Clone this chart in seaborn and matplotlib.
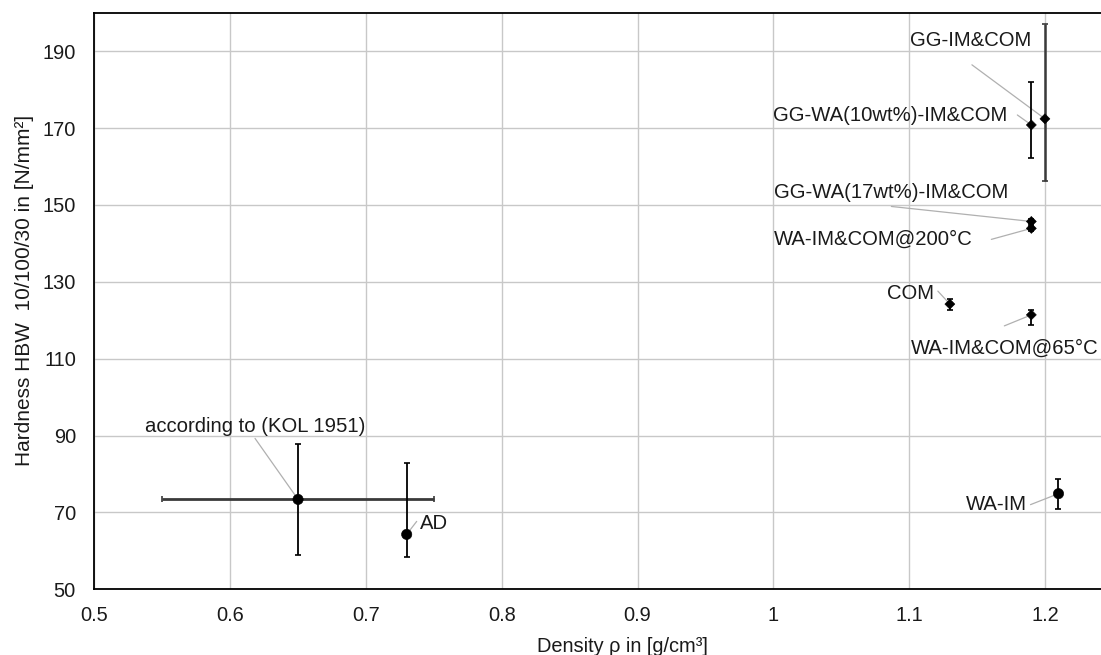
import numpy as np
import pandas as pd
import seaborn as sns
import matplotlib.pyplot as plt

# 数据
samples = ['according to (KOL 1951)', 'AD', 'WA-IM', 'GG-IM&COM',
           'GG-WA(10wt%)-IM&COM', 'GG-WA(17wt%)-IM&COM', 'WA-IM&COM@200°C',
           'COM', 'WA-IM&COM@65°C']
density = [0.65, 0.73, 1.21, 1.20, 1.19, 1.19, 1.19, 1.13, 1.19]
hardness = [73.4, 64.3, 74.9, 172.4, 170.8, 145.7, 143.9, 124.2, 121.4]
hard_err_low = [14.5, 6.0, 4.0, 16.1, 8.6, 0.7, 0.7, 1.5, 2.7]
hard_err_high = [14.5, 18.7, 3.8, 24.7, 11.2, 0.7, 0.7, 1.3, 1.3]
dens_err = [0.10, 0, 0, 0, 0, 0, 0, 0, 0]
marker_kind = ['circle', 'circle', 'circle', 'diamond', 'diamond', 'diamond',
               'diamond', 'diamond', 'diamond']

df = pd.DataFrame({'sample': samples, 'density': density, 'hardness': hardness,
                   'lo': hard_err_low, 'hi': hard_err_high, 'xerr': dens_err,
                   'kind': marker_kind})

sns.set_theme(style='whitegrid')
plt.rcParams['font.family'] = ['Liberation Sans', 'DejaVu Sans']
FS = 14.4

fig = plt.figure(figsize=(11.01, 6.55), dpi=100)
ax = fig.add_axes([0.0857, 0.1002, 0.9143, 0.8804])

# 误差线
for _, r in df.iterrows():
    col = '#3a3a3a' if r['sample'] == 'GG-IM&COM' else 'black'
    lw = 1.8 if r['sample'] == 'GG-IM&COM' else 1.3
    ax.errorbar(r['density'], r['hardness'], yerr=[[r['lo']], [r['hi']]],
                fmt='none', ecolor=col, elinewidth=lw, capsize=2.3,
                capthick=1.2, zorder=3)
    if r['xerr'] > 0:
        ax.errorbar(r['density'], r['hardness'], xerr=r['xerr'], fmt='none',
                    ecolor='#3a3a3a', elinewidth=2.0, capsize=2.3,
                    capthick=1.2, zorder=3)

sns.scatterplot(data=df, x='density', y='hardness', style='kind',
                markers={'circle': 'o', 'diamond': 'D'},
                size='kind', sizes={'circle': 55, 'diamond': 26},
                color='black', edgecolor='black', legend=False, ax=ax,
                zorder=4)

# 标签位置（相对点的像素偏移）：文字偏移, 引线起点偏移, 对齐
label_layout = {
    'GG-IM&COM': ((-74, 78), (-73, 54), 'center'),
    'GG-WA(10wt%)-IM&COM': ((-141, 9), (-14, 10), 'center'),
    'GG-WA(17wt%)-IM&COM': ((-140, 29), (-140, 15), 'center'),
    'WA-IM&COM@200°C': ((-158, -11), (-40, -11), 'center'),
    'COM': ((-39, 11), (-12, 13), 'center'),
    'WA-IM&COM@65°C': ((-27, -33), (-27, -11), 'center'),
    'according to (KOL 1951)': ((-43, 73), (-43, 61), 'center'),
    'AD': ((27, 11), (10, 13), 'center'),
    'WA-IM': ((-32, -11), (-28, -11), 'right'),
}
for _, r in df.iterrows():
    txt_off, line_off, ha = label_layout[r['sample']]
    ax.annotate('', xy=(r['density'], r['hardness']), xytext=line_off,
                textcoords='offset pixels',
                arrowprops=dict(arrowstyle='-', color='#b0b0b0', lw=0.9,
                                shrinkA=0, shrinkB=2), zorder=2)
    ax.annotate(r['sample'], xy=(r['density'], r['hardness']), xytext=txt_off,
                textcoords='offset pixels', ha=ha, va='center',
                fontsize=14.6, color='#1a1a1a', zorder=5)

ax.set_xlim(0.5, 1.2413)
ax.set_ylim(50, 200)
ax.set_xticks(np.arange(0.5, 1.21, 0.1))
ax.set_xticklabels(['0.5', '0.6', '0.7', '0.8', '0.9', '1', '1.1', '1.2'])
ax.set_yticks(np.arange(50, 191, 20))

ax.grid(True, color='#c8c8c8', linewidth=1.0)
ax.set_facecolor('white')
for side in ['left', 'bottom', 'top']:
    ax.spines[side].set_visible(True)
    ax.spines[side].set_color('black')
    ax.spines[side].set_linewidth(1.3)
ax.spines['right'].set_visible(False)

ax.tick_params(axis='both', length=0, labelsize=FS, colors='#1a1a1a')
ax.tick_params(axis='x', pad=12)
ax.tick_params(axis='y', pad=13.3)

ax.set_xlabel('Density ρ in [g/cm³]', fontsize=FS, color='#1a1a1a')
ax.set_ylabel('Hardness HBW  10/100/30 in [N/mm²]', fontsize=15,
              color='#1a1a1a')
ax.xaxis.set_label_coords(0.5247, -0.0825)
ax.yaxis.set_label_coords(-0.0599, 0.519)

fig.savefig('out.png', dpi=100)
